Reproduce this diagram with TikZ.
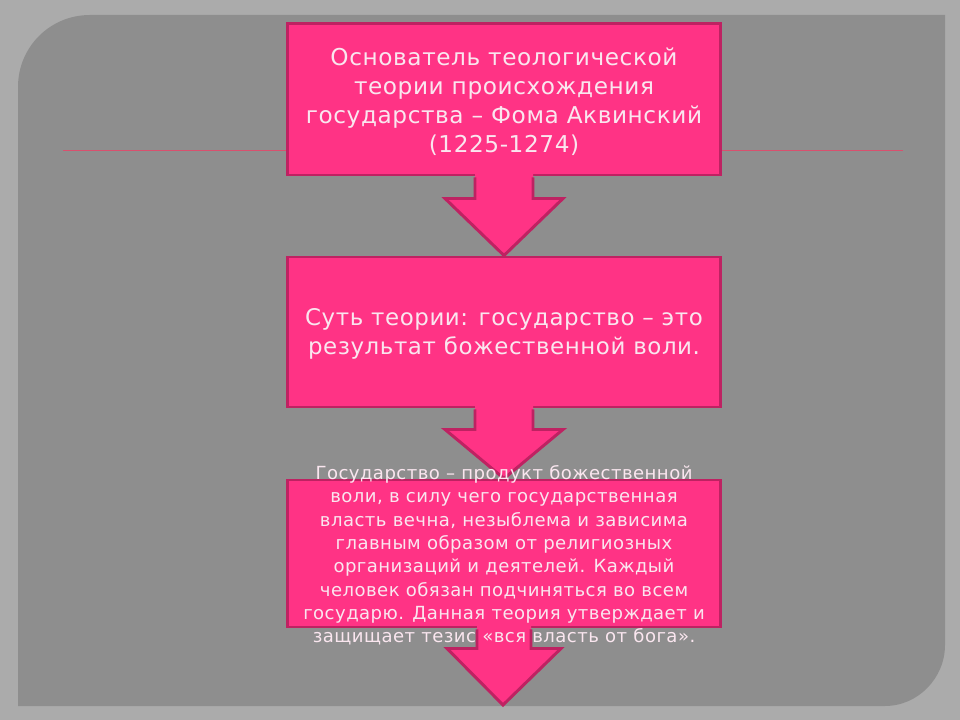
\documentclass[tikz,border=0pt]{standalone}
\usepackage{fontspec}
\setmainfont[LetterSpace=2.5]{DejaVu Sans}
\usetikzlibrary{calc}
\definecolor{outerbg}{HTML}{ABABAB}
\definecolor{panelgray}{HTML}{8E8E8E}
\definecolor{pinkfill}{HTML}{FF3385}
\definecolor{pinkedge}{HTML}{BE2262}
\definecolor{txtcol}{HTML}{FAE6EF}
\definecolor{rulecol}{HTML}{D9506E}
\tikzset{
  box/.style={draw=pinkedge, fill=pinkfill, line width=2.1pt, minimum width=10.8cm, inner sep=0pt},
  arrfill/.style={fill=pinkfill},
  arredge/.style={draw=pinkedge, line width=2.1pt, line join=miter},
  boxtext/.style={text=txtcol, align=center, inner sep=0pt},
  bigfont/.style={font=\fontsize{16.5}{20.6}\selectfont},
  midfont/.style={font=\fontsize{16.3}{20.6}\selectfont},
  smallfont/.style={font=\fontsize{12.85}{16.6}\selectfont}
}
\begin{document}
\begin{tikzpicture}[x=0.025cm,y=-0.025cm]
\fill[outerbg] (0,0) rectangle (960,720);
\useasboundingbox (0,0) rectangle (960,720);
% panel
\fill[panelgray] (18,706) -- (18,87) .. controls (18,47) and (50,15) .. (90,15)
  -- (945,15) -- (945,645) .. controls (945,678) and (918,706) .. (885,706) -- cycle;
% rule line
\draw[rulecol, line width=0.7pt] (63,150) -- (903,150);
% boxes
\node[box, minimum height=3.775cm] (b1) at (504,99.5) {};
\node[box, minimum height=3.75cm] (b2) at (504,332) {};
\node[box, minimum height=3.675cm] (b3) at (504,553.5) {};
\coordinate (end) at (503,705);
% arrow 1
\fill[arrfill] ($(b1.south)+(-29,-4)$) -- ($(b1.south)+(-29,22)$) -- ($(b1.south)+(-59,22)$) -- (b2.north)
  -- ($(b1.south)+(59,22)$) -- ($(b1.south)+(29,22)$) -- ($(b1.south)+(29,-4)$) -- cycle;
\draw[arredge] ($(b1.south)+(-29,1)$) -- ($(b1.south)+(-29,22)$) -- ($(b1.south)+(-59,22)$) -- (b2.north)
  -- ($(b1.south)+(59,22)$) -- ($(b1.south)+(29,22)$) -- ($(b1.south)+(29,1)$);
% arrow 2
\fill[arrfill] ($(b2.south)+(-29,-4)$) -- ($(b2.south)+(-29,21)$) -- ($(b2.south)+(-59,21)$) -- (b3.north)
  -- ($(b2.south)+(59,21)$) -- ($(b2.south)+(29,21)$) -- ($(b2.south)+(29,-4)$) -- cycle;
\draw[arredge] ($(b2.south)+(-29,1)$) -- ($(b2.south)+(-29,21)$) -- ($(b2.south)+(-59,21)$) -- (b3.north)
  -- ($(b2.south)+(59,21)$) -- ($(b2.south)+(29,21)$) -- ($(b2.south)+(29,1)$);
% arrow 3
\fill[arrfill] ($(b3.south)+(-27,-4)$) -- ($(b3.south)+(-27,20)$) -- ($(b3.south)+(-57,20)$) -- (end)
  -- ($(b3.south)+(57,20)$) -- ($(b3.south)+(27,20)$) -- ($(b3.south)+(27,-4)$) -- cycle;
\draw[arredge] ($(b3.south)+(-27,1)$) -- ($(b3.south)+(-27,20)$) -- ($(b3.south)+(-57,20)$) -- (end)
  -- ($(b3.south)+(57,20)$) -- ($(b3.south)+(27,20)$) -- ($(b3.south)+(27,1)$);
% texts
\node[boxtext, bigfont] (t1) at ($(b1.center)+(0,2)$) {Основатель теологической\\теории происхождения\\государства – Фома Аквинский\\(1225-1274)};
\node[boxtext, midfont] (t2) at ($(b2.center)+(0,2)$) {Суть теории: государство – это\\результат божественной воли.};
\node[boxtext, smallfont] (t3) at ($(b3.center)+(0,2)$) {Государство – продукт божественной\\воли, в силу чего государственная\\власть вечна, незыблема и зависима\\главным образом от религиозных\\организаций и деятелей. Каждый\\человек обязан подчиняться во всем\\государю. Данная теория утверждает и\\защищает тезис «вся власть от бога».};
\end{tikzpicture}
\end{document}
